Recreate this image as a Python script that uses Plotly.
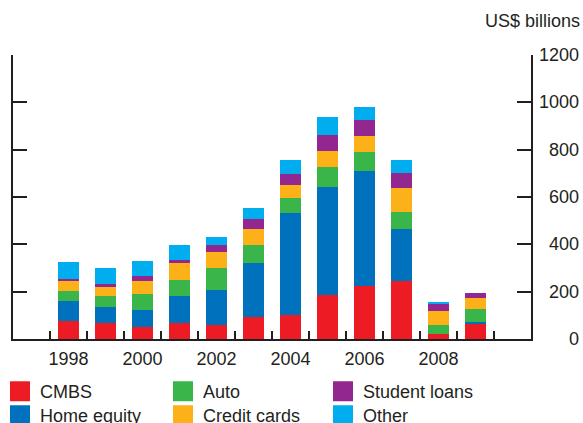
import plotly.graph_objects as go

years = [1998, 1999, 2000, 2001, 2002, 2003, 2004, 2005, 2006, 2007, 2008, 2009]
cmbs = [77, 66, 49, 69, 60, 91, 102, 184, 226, 246, 22, 66]
home_equity = [84, 70, 74, 113, 148, 230, 430, 458, 483, 219, 0, 7]
auto = [42, 46, 68, 68, 92, 76, 63, 84, 80, 71, 38, 55]
credit_cards = [43, 38, 55, 72, 68, 67, 55, 68, 68, 101, 59, 46]
student_loans = [8, 13, 21, 12, 29, 42, 47, 67, 67, 64, 30, 20]
other = [71, 67, 63, 63, 34, 47, 58, 76, 55, 54, 8, 0]

x_label_years = [1998, 2000, 2002, 2004, 2006, 2008]
y_ticks = [0, 200, 400, 600, 800, 1000, 1200]

# name, values, colour, legend column, legend row
series = [
    ("CMBS", cmbs, "#ED1C24", 0, 0),
    ("Home equity", home_equity, "#0071BC", 0, 1),
    ("Auto", auto, "#3AB54A", 1, 0),
    ("Credit cards", credit_cards, "#FDB119", 1, 1),
    ("Student loans", student_loans, "#92278F", 2, 0),
    ("Other", other, "#00AEEF", 2, 1),
]

INK = "#231F20"
FONT = "Liberation Sans, Arial, sans-serif"
L, R, T, B = 13, 52, 55, 84
W, H = 583, 423
PW = W - L - R
COL_PX = [0, 163, 323]
ROW_PX = [373, 397]

fig = go.Figure()
for name, vals, col, c, r in series:
    fig.add_trace(go.Bar(x=years, y=vals, name=name, marker=dict(color=col, line=dict(width=0)),
                         width=0.57, showlegend=False, hoverinfo="skip"))

legends = {}
for i, (name, vals, col, c, r) in enumerate(series):
    lid = "legend" if i == 0 else f"legend{i + 1}"
    fig.add_trace(go.Scatter(x=[None], y=[None], mode="markers", name=name, legend=lid,
                             marker=dict(symbol="square", size=16, color=col,
                                         line=dict(color=col, width=4))))
    legends[lid] = dict(orientation="v", xref="paper", yref="container",
                        x=(COL_PX[c] - L) / PW, y=1 - ROW_PX[r] / H,
                        xanchor="left", yanchor="top", itemsizing="trace",
                        font=dict(size=18, color=INK, family=FONT),
                        bgcolor="rgba(0,0,0,0)", borderwidth=0)

fig.update_layout(
    width=W, height=H,
    margin=dict(l=L, r=R, t=T, b=B),
    barmode="stack",
    plot_bgcolor="white", paper_bgcolor="white",
    font=dict(family=FONT, size=18, color=INK),
    showlegend=True,
    xaxis=dict(range=[1996.5, 2010.5], tickmode="array", tickvals=x_label_years,
               ticks="", showgrid=False, zeroline=False, showline=True, linewidth=2,
               linecolor=INK, tickfont=dict(size=18, color=INK), ticklabelstandoff=2,
               automargin=False,
               minor=dict(tickmode="array", tickvals=[y - 0.5 for y in years] + [years[-1] + 0.5],
                          ticks="inside", ticklen=8, tickwidth=2, tickcolor=INK, showgrid=False)),
    yaxis=dict(range=[0, 1200], side="right", tickmode="array", tickvals=y_ticks,
               ticks="inside", ticklen=14, tickwidth=2, tickcolor=INK, mirror="ticks",
               showline=True, linewidth=2, linecolor=INK, showgrid=False, zeroline=False,
               showticklabels=False, automargin=False),
    **legends,
)

for v in y_ticks:
    fig.add_annotation(x=(581 - L) / PW, xref="paper", y=v, yref="y", text=str(v),
                       showarrow=False, xanchor="right", yanchor="middle",
                       font=dict(size=18, color=INK))
fig.add_annotation(x=(582 - L) / PW, xref="paper", y=1 + (T - 21) / (H - T - B), yref="paper",
                   text="US$ billions", showarrow=False, xanchor="right", yanchor="middle",
                   font=dict(size=18, color=INK))

fig.write_html("out.html", config={"displayModeBar": False},
               post_script="document.body.style.margin='0';document.body.style.overflow='hidden';")
